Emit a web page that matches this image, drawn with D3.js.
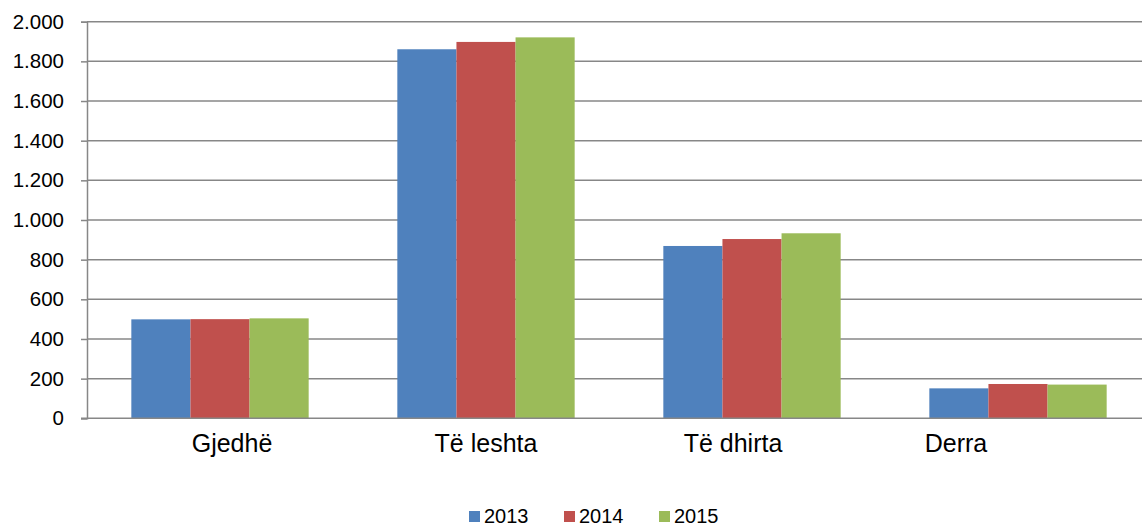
<!DOCTYPE html>
<html>
<head>
<meta charset="utf-8">
<script src="https://cdn.jsdelivr.net/npm/d3@7"></script>
<style>
  body { margin: 0; background: #fff; }
  text { font-family: "Liberation Sans", Arial, sans-serif; fill: #000; }
</style>
</head>
<body>
<div id="chart"></div>
<script>
var categories = ["Gjedhë", "Të leshta", "Të dhirta", "Derra"];
var years = ["2013", "2014", "2015"];
var values2013 = [499, 1861, 869, 151];
var values2014 = [500, 1898, 904, 173];
var values2015 = [504, 1921, 933, 170];
var yTicks = [0, 200, 400, 600, 800, 1000, 1200, 1400, 1600, 1800, 2000];
var colors = ["#4F81BD", "#C0504D", "#9BBB59"];
// labels in the source sit a little off the band centres
var labelShift = [12, 0, -19, -62];

var svgWidth = 1142;
var svgHeight = 529;

var plot = { left: 87, right: 1151, top: 21.7, bottom: 418.3 };

var svg = d3.select("#chart")
  .append("svg")
  .attr("width", svgWidth)
  .attr("height", svgHeight);

var series = [values2013, values2014, values2015];
var rows = categories.map(function(c, i) {
  return { cat: c, vals: years.map(function(y, j) { return { year: y, idx: j, value: series[j][i] }; }) };
});

var x0 = d3.scaleBand()
  .domain(categories)
  .range([plot.left, plot.right])
  .padding(0);

// gap width 150% of a bar
var barW = x0.bandwidth() / 4.5;
var x1 = d3.scaleBand()
  .domain(years)
  .range([barW * 0.75, barW * 3.75])
  .padding(0);

var y = d3.scaleLinear()
  .domain([0, 2000])
  .range([plot.bottom, plot.top]);

var fmt = d3.formatLocale({ decimal: ",", thousands: ".", grouping: [3], currency: ["", ""] }).format(",");

// gridlines
svg.append("g")
  .selectAll("line")
  .data(yTicks.slice(1))
  .enter()
  .append("line")
  .attr("x1", plot.left)
  .attr("x2", plot.right)
  .attr("y1", d => y(d))
  .attr("y2", d => y(d))
  .attr("stroke", "#878787")
  .attr("stroke-width", 1.5);

// bars
var groups = svg.append("g")
  .selectAll("g")
  .data(rows)
  .enter()
  .append("g")
  .attr("transform", d => `translate(${x0(d.cat)}, 0)`);

groups.selectAll("rect")
  .data(d => d.vals)
  .enter()
  .append("rect")
  .attr("x", d => x1(d.year))
  .attr("width", x1.bandwidth())
  .attr("y", d => y(d.value))
  .attr("height", d => y(0) - y(d.value))
  .attr("fill", d => colors[d.idx]);

// y axis
var leftAxis = d3.axisLeft(y)
  .tickValues(yTicks)
  .tickFormat(fmt)
  .tickSize(6)
  .tickPadding(17);

var yAxis = svg.append("g")
  .attr("transform", `translate(${plot.left}, 0)`)
  .call(leftAxis);

yAxis.select(".domain").attr("stroke", "#878787").attr("stroke-width", 1.5);
yAxis.selectAll(".tick line").attr("stroke", "#878787").attr("stroke-width", 1.5);
yAxis.selectAll(".tick text")
  .attr("font-size", "20.5px")
  .attr("font-family", "Liberation Sans, Arial, sans-serif")
  .attr("fill", "#000");

// x axis baseline
svg.append("line")
  .attr("x1", plot.left - 6)
  .attr("x2", plot.right)
  .attr("y1", y(0))
  .attr("y2", y(0))
  .attr("stroke", "#878787")
  .attr("stroke-width", 1.5);

// category labels
svg.append("g")
  .selectAll("text")
  .data(categories)
  .enter()
  .append("text")
  .attr("x", (d, i) => x0(d) + x0.bandwidth() / 2 + labelShift[i])
  .attr("y", 452)
  .attr("text-anchor", "middle")
  .attr("font-size", "25px")
  .text(d => d);

// legend
var legendX = d3.scalePoint()
  .domain(years)
  .range([469, 659]);

var legend = svg.append("g")
  .selectAll("g")
  .data(years)
  .enter()
  .append("g")
  .attr("transform", d => `translate(${legendX(d)}, 511)`);

legend.append("rect")
  .attr("width", 11)
  .attr("height", 11)
  .attr("fill", (d, i) => colors[i]);

legend.append("text")
  .attr("x", 15)
  .attr("y", 12)
  .attr("font-size", "20px")
  .text(d => d);
</script>
</body>
</html>
